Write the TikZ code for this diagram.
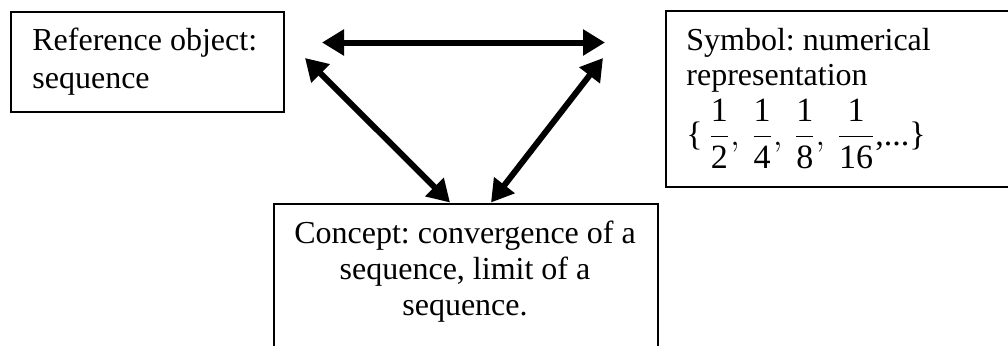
\documentclass[tikz,border=0pt]{standalone}
\usepackage{amsmath}
\usepackage{fontspec}
\setmainfont{Liberation Serif}
\usetikzlibrary{arrows.meta}
\frenchspacing

% display-size fraction with text-font digits
\newcommand{\tfr}[2]{\genfrac{}{}{0.5pt}{0}{\text{#1}}{\text{#2}}}

\tikzset{
  box/.style={draw=black, line width=1pt, rectangle, inner sep=0pt, anchor=north west},
  label/.style={inner sep=0pt, font=\fontsize{16}{18.5}\selectfont},
  eqn/.style={inner sep=0pt, font=\fontsize{17}{19.5}\selectfont},
  link/.style={line width=3pt, {Triangle[length=11pt,width=12.5pt]}-{Triangle[length=11pt,width=12.5pt]}}
}

\begin{document}
\begin{tikzpicture}[x=0.5pt, y=-0.5pt]
  \useasboundingbox (0,0) rectangle (1008,345);
  \clip (0,0) rectangle (1008,345);

  % boxes
  \node[box, minimum width=136.5pt, minimum height=50pt] (ref) at (10,10.5) {};
  \node[box, minimum width=180pt, minimum height=88pt] (sym) at (665,10) {};
  \node[box, minimum width=192pt, minimum height=90pt] (con) at (273,203) {};

  % reference object
  \node[label, anchor=base west] (ref1) at (32,50) {Reference object:};
  \node[label, anchor=base west] (ref2) at (32,88) {sequence};

  % symbol
  \node[label, anchor=base west] (sym1) at (686,50) {Symbol: numerical};
  \node[label, anchor=base west] (sym2) at (686,85) {representation};
  \node[eqn, anchor=base west] (sym3) at (686,145)
    {$\text{\{}\,\tfr{1}{2},\,\tfr{1}{4},\,\tfr{1}{8},\,\tfr{1}{16}\text{,...\}}$};

  % concept
  \node[label, anchor=base] (con1) at (465,243) {Concept: convergence of a};
  \node[label, anchor=base] (con2) at (465,279) {sequence, limit of a};
  \node[label, anchor=base] (con3) at (465,315) {sequence.};

  % arrow end points
  \coordinate (topL) at (322,42.5);
  \coordinate (topR) at (605,42.5);
  \coordinate (diagL) at (305,58);
  \coordinate (diagR) at (603,58);
  \coordinate (botL) at (450,202.5);
  \coordinate (botR) at (491,202.5);

  % arrows
  \draw[link] (topL) -- (topR);
  \draw[link] (diagL) -- (botL);
  \draw[link] (diagR) -- (botR);
\end{tikzpicture}
\end{document}
